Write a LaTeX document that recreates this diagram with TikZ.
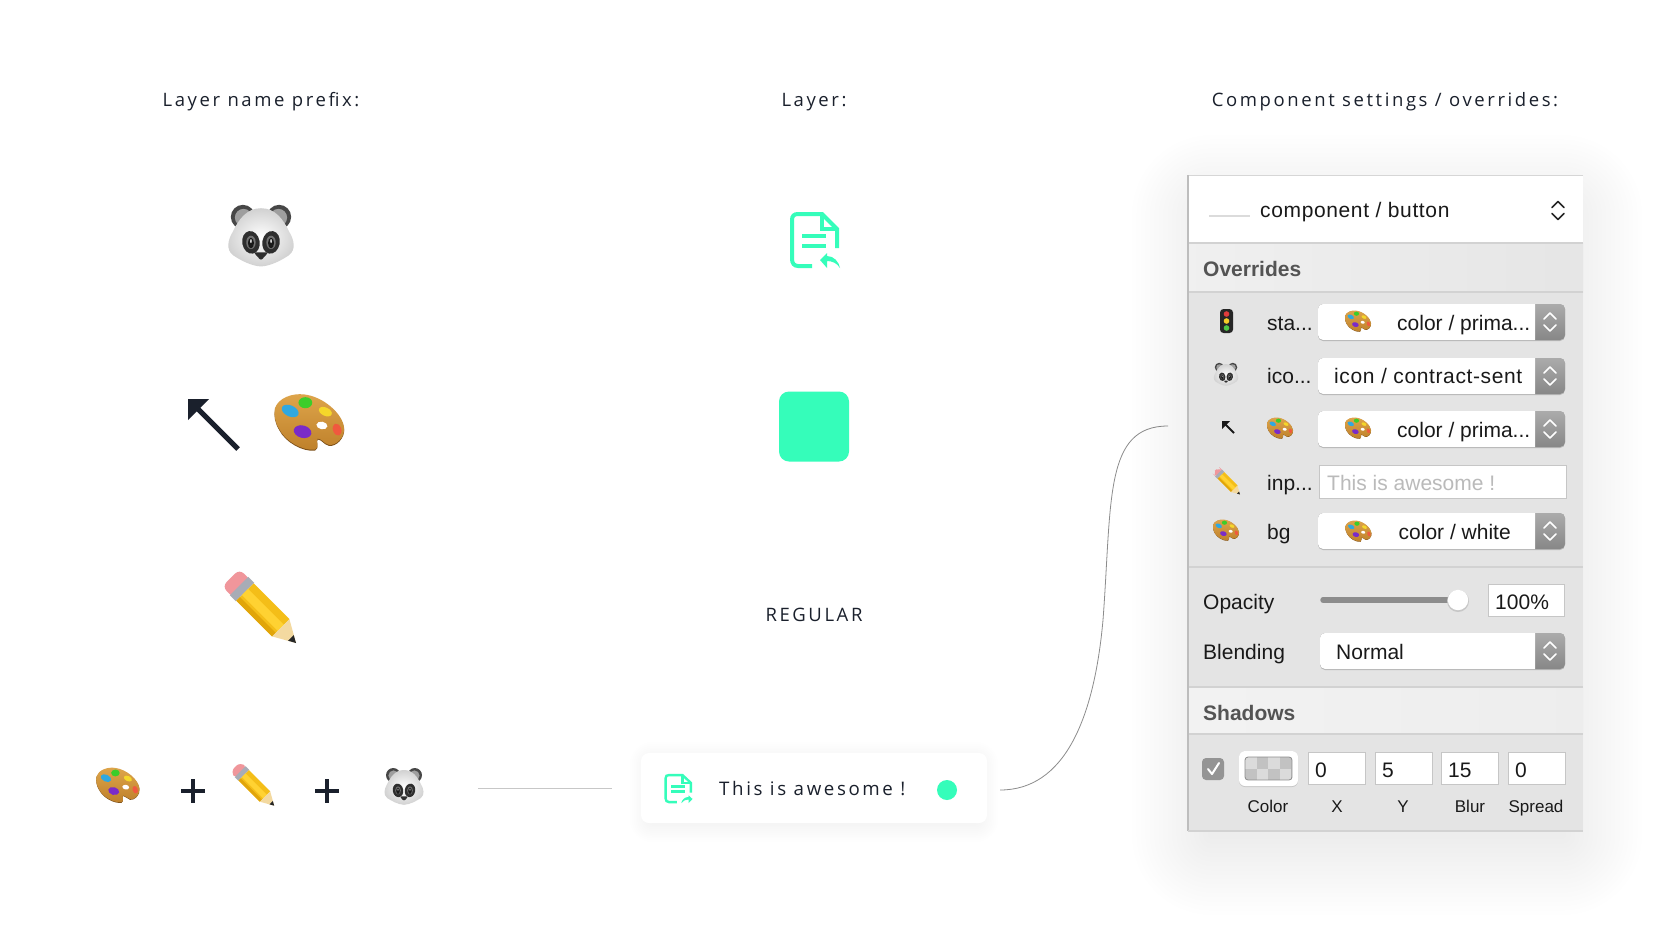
\documentclass[tikz,border=0pt]{standalone}
\usepackage{fontspec}
\setmainfont{Liberation Sans}
\newfontfamily\ttl[LetterSpace=14]{Open Sans}
\newfontfamily\uif[LetterSpace=3]{Liberation Sans}
\definecolor{teal1}{HTML}{35FDBA}
\definecolor{ink}{HTML}{1A202C}
\definecolor{sepc}{HTML}{D2D2D2}
\definecolor{bodyc}{HTML}{E4E4E4}
\definecolor{fieldb}{HTML}{C6C6C6}
\newcommand\softshadow[6]{% x1 y1 x2 y2 spread steps
  \foreach \i in {1,...,#6}{
    \pgfmathsetmacro\dd{#5*\i/#6}
    \fill[black,fill opacity=.0042,rounded corners=\dd] ({#1-\dd},{#2-\dd}) rectangle ({#3+\dd},{#4+\dd});
  }}
\newcommand\chev[4]{% cx cy color width: up/down chevrons
  \draw[#3,line width=#4,line cap=round,line join=round] (#1-6,#2-3) -- (#1,#2-9) -- (#1+6,#2-3);
  \draw[#3,line width=#4,line cap=round,line join=round] (#1-6,#2+3) -- (#1,#2+9) -- (#1+6,#2+3);}
\newcommand\popup[3]{% x1 y1 y2
  \fill[fill=black!28,rounded corners=5] (#1,#2) rectangle (1565,#3+1);
  \shade[top color=black!33,bottom color=black!47,rounded corners=5] (#1,#2) rectangle (1565,#3);
  \fill[white] (1535,#2) [rounded corners=5] -- (#1,#2) -- (#1,#3) [sharp corners] -- (1535,#3) -- cycle;
  \pgfmathsetmacro\cc{(#2+#3)/2}
  \chev{1550}{\cc}{white}{1.6pt}}
\tikzset{
  x=1pt,y=-1pt,
  ttlf/.style={inner sep=0pt,font=\ttl\fontsize{18.5}{20}\selectfont,text=ink},
  ui/.style={inner sep=0pt,anchor=base west,font=\fontsize{21}{24}\selectfont,text=black!90},
  uis/.style={inner sep=0pt,anchor=base,font=\fontsize{17}{20}\selectfont,text=black!90},
  sect/.style={inner sep=0pt,anchor=base west,font=\bfseries\fontsize{21}{24}\selectfont,text=black!67},
  fieldbox/.style={fill=white,draw=fieldb,line width=1pt},
  panda/.pic={
    \fill[black!72] (-27,-27) circle (18);
    \fill[black!38] (-26,-26) circle (13);
    \fill[black!72] (27,-27) circle (18);
    \fill[black!38] (26,-26) circle (13);
    \shade[inner color=white,outer color=black!18]
      (0,-40) .. controls (22,-40) and (34,-22) .. (42,-5)
      .. controls (50,8) and (52,22) .. (42,30)
      .. controls (30,38) and (15,46) .. (0,47)
      .. controls (-15,46) and (-30,38) .. (-42,30)
      .. controls (-52,22) and (-50,8) .. (-42,-5)
      .. controls (-34,-22) and (-22,-40) .. (0,-40) -- cycle;
    \fill[black!82,rotate around={10:(-15,11)}] (-15,11) ellipse (13 and 17);
    \fill[black!82,rotate around={-10:(15,11)}] (15,11) ellipse (13 and 17);
    \fill[black!55] (-15,11) ellipse (7 and 10);
    \fill[black!55] (15,11) ellipse (7 and 10);
    \fill[black!90] (-15,12) ellipse (4.5 and 8);
    \fill[black!90] (15,12) ellipse (4.5 and 8);
    \fill[white] (-15,9) ellipse (1.1 and 3);
    \fill[white] (15,9) ellipse (1.1 and 3);
    \fill[black!82,rounded corners=2] (-11,26) -- (11,26) -- (0,38) -- cycle;
  },
  palette/.pic={
    \def\pp{(-50,-20) .. controls (-45,-35) and (-25,-42) .. (-8,-40)
      .. controls (20,-37) and (48,-12) .. (50,8)
      .. controls (52,22) and (38,35) .. (28,33)
      .. controls (20,31) and (18,24) .. (12,24)
      .. controls (8,26) and (16,36) .. (8,40)
      .. controls (-10,42) and (-35,28) .. (-44,10)
      .. controls (-50,0) and (-52,-10) .. (-50,-20) -- cycle}
    \fill[yshift=-1.5,fill={rgb,255:red,125;green,80;blue,25}] \pp;
    \shade[top color={rgb,255:red,222;green,165;blue,75},bottom color={rgb,255:red,190;green,128;blue,42}] \pp;
    \fill[white,rotate around={-10:(18,5)}] (18,5) ellipse (8 and 5.5);
    \fill[fill={rgb,255:red,47;green,168;blue,224},rotate around={-25:(-28,-16)}] (-28,-16) ellipse (13 and 8);
    \fill[fill={rgb,255:red,60;green,205;blue,42}] (-6,-28) ellipse (10 and 8);
    \fill[fill={rgb,255:red,245;green,215;blue,42},rotate around={-25:(23,-15)}] (23,-15) ellipse (10 and 6);
    \fill[fill={rgb,255:red,240;green,89;blue,62},rotate around={20:(40,11)}] (40,11) ellipse (6 and 9);
    \fill[fill={rgb,255:red,122;green,43;blue,200},rotate around={-15:(-10,14)}] (-10,14) ellipse (13 and 9);
  },
  pencil/.pic={
    \begin{scope}[rotate=-45]
      \fill[fill={rgb,255:red,240;green,150;blue,155},rounded corners=6] (-60,-17) rectangle (-36,17);
      \fill[fill={rgb,255:red,168;green,172;blue,182}] (-44,-18) rectangle (-32,18);
      \fill[fill={rgb,255:red,244;green,190;blue,24}] (-32,-17) rectangle (38,17);
      \fill[fill={rgb,255:red,255;green,210;blue,50}] (-32,-6) rectangle (38,6);
      \fill[fill={rgb,255:red,225;green,165;blue,10}] (-32,10) rectangle (38,17);
      \fill[fill={rgb,255:red,243;green,217;blue,160}] (38,-17) -- (38,17) -- (68,0) -- cycle;
      \fill[black!85] (58,-5.5) -- (58,5.5) -- (68,0) -- cycle;
    \end{scope}
  },
  trafficl/.pic={
    \fill[black!85,rounded corners=3.5] (-6.5,-12) rectangle (6.5,12);
    \fill[fill={rgb,255:red,225;green,60;blue,60}] (0,-7) circle (2.8);
    \fill[fill={rgb,255:red,245;green,205;blue,40}] (0,0) circle (2.8);
    \fill[fill={rgb,255:red,80;green,200;blue,70}] (0,7) circle (2.8);
  },
  docic/.style={draw=teal1,line width=#1,line join=miter},
  docicon/.pic={
    \draw[pic actions] (22,54) -- (8,54) .. controls (4,54) and (2,51) .. (2,47) -- (2,8)
      .. controls (2,4) and (4,2) .. (8,2) -- (32,2) -- (47,17) -- (47,36);
    \draw[pic actions] (32,2) -- (32,17) -- (47,17);
    \draw[pic actions] (12,24) -- (36,24);
    \draw[pic actions] (12,34) -- (36,34);
  },
  docarrowl/.pic={
    \fill[teal1] (30,48) -- (37,41) -- (37,44) .. controls (44,44) and (49,50) .. (50,56)
      .. controls (47,51) and (42,49) .. (37,49) -- (37,56) -- cycle;
  },
  docarrowr/.pic={
    \fill[teal1] (50,48) -- (43,41) -- (43,44) .. controls (36,44) and (31,50) .. (30,56)
      .. controls (33,51) and (38,49) .. (43,49) -- (43,56) -- cycle;
  },
}
\begin{document}
\begin{tikzpicture}
\useasboundingbox (0,0) rectangle (1680,937);
\fill[white] (0,0) rectangle (1680,937);

% titles
\node[ttlf] (t1) at (261,102) {Layer name prefix:};
\node[ttlf] (t2) at (814,102) {Layer:};
\node[ttlf] (t3) at (1385,102) {Component settings / overrides:};

% left column
\pic[scale=.67] at (261,235) {panda};
\fill[ink] (188,399) -- (209,399) -- (188,420) -- cycle;
\draw[ink,line width=5pt] (195,406) -- (238,449);
\pic[scale=.69] at (309.5,422) {palette};
\pic[scale=.72] at (261.4,608.4) {pencil};

% middle column
\pic[docic=4pt] at (790,212) {docicon};
\pic at (790,212) {docarrowl};
\node[fill=teal1,rounded corners=10,minimum width=70pt,minimum height=70pt,inner sep=0pt] (sq) at (814,426.5) {};
\node[ttlf] (regular) at (814,615) {REGULAR};

% bottom row
\pic[scale=.43] at (118,785) {palette};
\pic[scale=.43] at (253.5,785) {pencil};
\pic[scale=.40] at (404,786) {panda};
\draw[ink,line width=3.4pt] (181,791) -- (205,791) (193,779) -- (193,803);
\draw[ink,line width=3.4pt] (315,791) -- (339,791) (327,779) -- (327,803);
\coordinate (ls) at (478,788.5);
\coordinate (le) at (612,788.5);
\draw[black!22,line width=1.8pt] (ls) -- (le);

% card
\softshadow{652}{764}{976}{820}{22}{12}
\node[fill=white,rounded corners=8,minimum width=346pt,minimum height=70pt,inner sep=0pt] (card) at (814,788) {};
\pic[docic=2.4pt,xscale=.56,yscale=.52] at (664.5,774) {docicon};
\pic[xscale=.56,yscale=.52] at (664.5,774) {docarrowr};
\node[inner sep=0pt,anchor=base west,font=\ttl\fontsize{18.7}{20}\selectfont,text=ink] (cardt) at (719,795.5) {This is awesome !};
\node[fill=teal1,circle,minimum size=20pt,inner sep=0pt] (dot) at (947,790) {};

% connector
\coordinate (cs) at (1000,790);
\coordinate (ce) at (1168,426);
\draw[black!45,line width=.8pt] (cs) .. controls (1064,790) and (1094,720) .. (1103,620)
  .. controls (1112,500) and (1104,426) .. (ce);

% panel
\softshadow{1212}{215}{1562}{835}{80}{18}
\fill[bodyc] (1188,175) rectangle (1583,831);
\fill[white] (1188,175) rectangle (1583,243);
\shade[left color=black!6,right color=black!10] (1188,243) rectangle (1583,292);
\shade[left color=black!5,right color=black!7] (1188,687) rectangle (1583,734);
\foreach \yy in {243,292,567,687,734}{\draw[sepc,line width=1.2pt] (1188,\yy) -- (1583,\yy);}
\draw[black!16,line width=1pt] (1583,175) -- (1188,175);
\draw[black!26,line width=1.2pt] (1188,175) -- (1188,831);
\draw[sepc,line width=1.2pt] (1188,831) -- (1583,831);

% header
\fill[black!14] (1209,207) rectangle (1250,217);
\fill[white] (1209,203) rectangle (1250,214.5);
\node[ui,font=\uif\fontsize{21}{24}\selectfont] (hd) at (1260,217) {component / button};
\chev{1558}{210.5}{black!85}{1.7pt}
\node[sect] (ov) at (1203,276) {Overrides};

% rows
\pic at (1226.5,321) {trafficl};
\node[ui] (r1) at (1267,330) {sta...};
\popup{1318}{304}{340}
\pic[scale=.26] at (1358,321) {palette};
\node[ui] (r1v) at (1397,330) {color / prima...};

\pic[scale=.25] at (1226,374) {panda};
\node[ui] (r2) at (1267,383) {ico...};
\popup{1318}{358}{394}
\node[ui,font=\uif\fontsize{21}{24}\selectfont] (r2v) at (1334,383) {icon / contract-sent};

\fill[black!90] (1222,421) -- (1230,421) -- (1222,429) -- cycle;
\draw[black!90,line width=1.8pt] (1224,423) -- (1234,433);
\pic[scale=.26] at (1280,428) {palette};
\popup{1318}{411}{447}
\pic[scale=.26] at (1358,428) {palette};
\node[ui] (r3v) at (1397,437) {color / prima...};

\pic[scale=.27] at (1227,481.5) {pencil};
\node[ui] (r4) at (1267,490) {inp...};
\draw[fieldbox] (1319.5,465.5) rectangle (1566.5,498);
\node[ui,text=black!27] (r4v) at (1327,490) {This is awesome !};

\pic[scale=.26] at (1226,530) {palette};
\node[ui] (r5) at (1267,539) {bg};
\popup{1318}{513}{549}
\pic[scale=.26] at (1358.5,531) {palette};
\node[ui] (r5v) at (1398.5,539) {color / white};

% opacity
\node[ui] (op) at (1203,609) {Opacity};
\draw[black!45,line width=5.5pt,line cap=round] (1323,600) -- (1450,600);
\fill[black!22] (1458,601) circle (11);
\fill[white] (1458,600) circle (10.2);
\draw[fieldbox] (1488.5,584) rectangle (1564.5,616);
\node[ui] (opv) at (1495,609) {100\%};

% blending
\node[ui] (bl) at (1203,659) {Blending};
\popup{1320}{633}{669}
\node[ui] (blv) at (1336,659) {Normal};

\node[sect] (sh) at (1203,720) {Shadows};

% shadows row
\fill[fill=black!42,rounded corners=4] (1202,758) rectangle (1224,780);
\draw[white,line width=2pt,line cap=round,line join=round] (1208,769) -- (1212,774) -- (1219,763);
\fill[black!22,rounded corners=6] (1239,751) rectangle (1298,787);
\fill[white,rounded corners=6] (1239,751) rectangle (1298,786);
\begin{scope}
  \clip[rounded corners=3] (1245,757) rectangle (1292,780);
  \fill[black!24] (1245,757) rectangle (1292,780);
  \foreach \xx/\yy in {1245/757,1268/757,1256.5/768.5,1279.5/768.5}{
    \fill[black!14] (\xx,\yy) rectangle ++(11.5,11.5);}
\end{scope}
\draw[black!45,line width=.8pt,rounded corners=3] (1245,757) rectangle (1292,780);
\foreach \nm/\xa/\xb/\val in {fa/1308.5/1365/0,fb/1375.5/1432/5,fc/1441.5/1498.5/15,fd/1508.5/1565/0}{
  \draw[fieldbox] (\xa,752.5) rectangle (\xb,784.5);
  \node[ui] (\nm) at (\xa+6.5,777) {\val};
}
\node[uis] (lc) at (1268,812) {Color};
\node[uis] (lx) at (1337,812) {X};
\node[uis] (ly) at (1403,812) {Y};
\node[uis] (lb) at (1470,812) {Blur};
\node[uis] (ls2) at (1536,812) {Spread};
\end{tikzpicture}
\end{document}
